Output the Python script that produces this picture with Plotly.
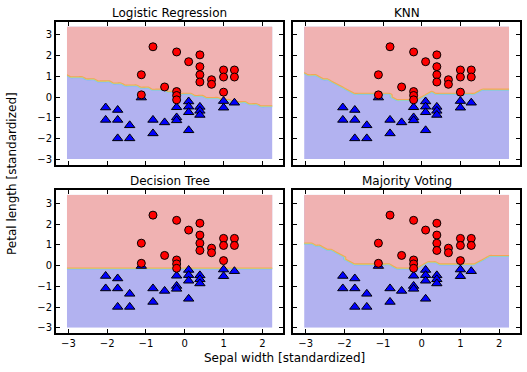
import numpy as np
import plotly.graph_objects as go

# ---------------- data ----------------
titles = ["Logistic Regression", "KNN", "Decision Tree", "Majority Voting"]
x_label = "Sepal width [standardized]"
y_label = "Petal length [standardized]"
x_ticks = [-3, -2, -1, 0, 1, 2]
y_ticks = [-3, -2, -1, 0, 1, 2, 3]

# class 1 (red circles)
red_x = [-0.82, -0.21, 0.39, 0.10, 0.39, 0.39, 0.39, -1.12, 0.69, 0.69,
         1.00, 1.00, 1.28, 1.28, -0.52, -1.12, -0.21, -0.21, -0.21, 1.00]
red_y = [2.43, 2.18, 2.04, 1.71, 1.47, 1.08, 0.73, 1.08, 0.84, 0.62,
         1.31, 0.97, 1.31, 0.97, 0.49, 0.11, 0.27, 0.08, -0.13, 0.24]

# class 0 (blue triangles)
blue_x = [-2.04, -1.73, -2.04, -1.73, -1.42, -1.73, -1.42, -0.82, -0.82, -0.52,
          -0.21, -0.21, -0.21, 0.10, 0.10, 0.10, 0.10, 0.39, 0.39, 0.39,
          1.00, 1.00, 1.28, -1.12]
blue_y = [-0.50, -0.62, -1.10, -1.10, -1.36, -1.99, -1.99, -1.10, -1.75, -1.22,
          -0.49, -0.98, -1.12, -0.21, -0.46, -0.73, -1.60, -0.47, -0.66, -0.86,
          -0.19, -0.51, -0.27, -0.02]

# decision boundaries (class 1 above the line)
lr_bx = [-3.04, 2.28]
lr_by = [1.03, -0.49]
knn_bx = [-3.04, -2.8, -2.53, -2.27, -2.1, -1.97, -1.8, -0.76, -0.72, -0.17, 0.0, 0.26, 0.4, 1.38, 1.55, 1.76, 2.28]
knn_by = [1.13, 1.05, 0.88, 0.70, 0.55, 0.38, 0.16, 0.16, -0.17, -0.17, 0.03, 0.22, 0.15, 0.15, 0.32, 0.40, 0.40]
tree_bx = [-3.04, 2.28]
tree_by = [-0.17, -0.17]
mv_bx = [-3.04, -2.8, -2.53, -2.27, -2.1, -1.97, -1.8, -0.76, -0.72, -0.17, 0.0, 0.26, 0.4, 1.38, 1.55, 1.76, 2.28]
mv_by = [1.11, 1.03, 0.86, 0.70, 0.52, 0.34, 0.10, 0.10, -0.16, -0.16, 0.03, 0.20, 0.10, 0.10, 0.30, 0.44, 0.44]

boundaries = [(lr_bx, lr_by), (knn_bx, knn_by), (tree_bx, tree_by), (mv_bx, mv_by)]

# mesh grid (step 0.1 like the original)
grid_x = np.arange(-3.04, 2.28, 0.1)
grid_y = np.arange(-2.99, 3.43, 0.1)

# ---------------- layout geometry ----------------
W, H = 527, 372
x_dom = [[56 / W, 283.3 / W], [293.3 / W, 520 / W]]
y_dom = [[1 - 164.7 / H, 1 - 21.7 / H], [1 - 333.3 / H, 1 - 190 / H]]
x_range = [-3.32, 2.54]
y_range = [-3.26, 3.64]

fill_scale = [[0.0, "rgb(178,178,240)"], [0.5, "rgb(178,178,240)"],
              [0.5, "rgb(240,178,178)"], [1.0, "rgb(240,178,178)"]]
fringe_scale = [[0.0, "rgb(120,190,245)"], [0.25, "rgb(120,190,245)"],
                [0.5, "rgb(170,230,150)"], [0.75, "rgb(245,165,85)"],
                [1.0, "rgb(245,165,85)"]]

fig = go.Figure()
XX, YY = np.meshgrid(grid_x, grid_y)

for i, (bx, by) in enumerate(boundaries):
    r, c = divmod(i, 2)
    n = i + 1
    xa = "x" if n == 1 else f"x{n}"
    ya = "y" if n == 1 else f"y{n}"
    bound = np.interp(XX, bx, by)
    Z = (YY > bound).astype(float)
    fig.add_trace(go.Contour(
        x=grid_x, y=grid_y, z=Z, xaxis=xa, yaxis=ya,
        zmin=0, zmax=1, colorscale=fill_scale, showscale=False,
        contours=dict(start=0.5, end=0.5, size=1, coloring="fill"),
        line=dict(width=0), hoverinfo="skip"))
    fig.add_trace(go.Contour(
        x=grid_x, y=grid_y, z=Z, xaxis=xa, yaxis=ya,
        zmin=0, zmax=1, colorscale=fringe_scale, showscale=False,
        contours=dict(start=0.25, end=0.75, size=0.25, coloring="lines"),
        line=dict(width=1.1), hoverinfo="skip"))
    fig.add_trace(go.Scatter(
        x=blue_x, y=blue_y, mode="markers", xaxis=xa, yaxis=ya,
        marker=dict(symbol="triangle-up", size=9, color="#0000ff",
                    line=dict(color="black", width=1)), showlegend=False))
    fig.add_trace(go.Scatter(
        x=red_x, y=red_y, mode="markers", xaxis=xa, yaxis=ya,
        marker=dict(symbol="circle", size=8, color="#ff0000",
                    line=dict(color="black", width=1)), showlegend=False))

    axis_common = dict(showline=True, linecolor="black", linewidth=1.8, mirror="ticks",
                       ticks="inside", ticklen=4, tickwidth=1, tickcolor="black",
                       showgrid=False, zeroline=False,
                       tickfont=dict(family="DejaVu Sans", size=10, color="black"))
    xkey = "xaxis" if n == 1 else f"xaxis{n}"
    ykey = "yaxis" if n == 1 else f"yaxis{n}"
    fig.update_layout(**{
        xkey: dict(axis_common, domain=x_dom[c], range=x_range, tickvals=x_ticks,
                   showticklabels=(r == 1), anchor=ya),
        ykey: dict(axis_common, domain=y_dom[r], range=y_range, tickvals=y_ticks,
                   showticklabels=(c == 0), anchor=xa),
    })
    fig.add_annotation(text=titles[i], xref="paper", yref="paper",
                       x=(x_dom[c][0] + x_dom[c][1]) / 2, y=y_dom[r][1] + 9 / H,
                       xanchor="center", yanchor="middle", showarrow=False,
                       font=dict(family="DejaVu Sans", size=12, color="black"))

fig.add_annotation(text=x_label, xref="paper", yref="paper", x=284.5 / W, y=1 - 358 / H,
                   xanchor="center", yanchor="middle", showarrow=False,
                   font=dict(family="DejaVu Sans", size=12, color="black"))
fig.add_annotation(text=y_label, xref="paper", yref="paper", x=12 / W, y=1 - 174 / H,
                   xanchor="center", yanchor="middle", showarrow=False, textangle=-90,
                   font=dict(family="DejaVu Sans", size=12, color="black"))

fig.update_layout(width=W, height=H, margin=dict(l=0, r=0, t=0, b=0),
                  paper_bgcolor="white", plot_bgcolor="white", showlegend=False)

fig.write_html("out.html", config={"displayModeBar": False},
               post_script="document.body.style.margin='0';document.body.style.overflow='hidden';")
